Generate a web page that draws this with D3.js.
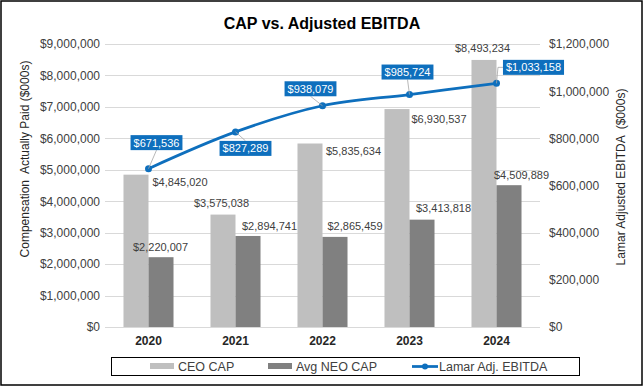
<!DOCTYPE html>
<html>
<head>
<meta charset="utf-8">
<script src="https://cdn.jsdelivr.net/npm/d3@7/dist/d3.min.js"></script>
<style>
  body { margin: 0; background: #fff; }
  text { font-family: "Liberation Sans", Arial, sans-serif; }
</style>
</head>
<body>
<div id="chart"></div>
<script>
// Data
var years = ['2020', '2021', '2022', '2023', '2024']
var ceoCap = [4845020, 3575038, 5835634, 6930537, 8493234]
var neoCap = [2220007, 2894741, 2865459, 3413818, 4509889]
var ebitda = [671536, 827289, 938079, 985724, 1033158]
var leftTicks = [0, 1000000, 2000000, 3000000, 4000000, 5000000, 6000000, 7000000, 8000000, 9000000]
var rightTicks = [0, 200000, 400000, 600000, 800000, 1000000, 1200000]

var width = 644
var height = 387
var margin = { top: 44, right: 104, bottom: 60, left: 105 }

var svg = d3.select('#chart').append('svg')
  .attr('width', width)
  .attr('height', height)

// outer frame
svg.append('rect')
  .attr('x', 1).attr('y', 1)
  .attr('width', width - 3).attr('height', height - 3)
  .attr('fill', '#fff')
  .attr('stroke', '#000')
  .attr('stroke-width', 1.5)

var x = d3.scaleBand()
  .domain(years)
  .range([margin.left, width - margin.right])
  .paddingInner(0.425)
  .paddingOuter(0.2125)

var xs = d3.scaleBand()
  .domain(['ceo', 'neo'])
  .range([0, x.bandwidth()])

var yL = d3.scaleLinear().domain([0, 9000000]).range([height - margin.bottom, margin.top])
var yR = d3.scaleLinear().domain([0, 1200000]).range([height - margin.bottom, margin.top])

var money = d3.format('$,')

// gridlines
svg.append('g').selectAll('line')
  .data(leftTicks)
  .enter().append('line')
  .attr('x1', margin.left)
  .attr('x2', width - margin.right)
  .attr('y1', function (d) { return Math.round(yL(d)) + 0.5 })
  .attr('y2', function (d) { return Math.round(yL(d)) + 0.5 })
  .attr('stroke', '#d9d9d9')
  .attr('stroke-width', 1)

// left axis
var axL = svg.append('g')
  .attr('transform', 'translate(' + margin.left + ',0)')
  .call(d3.axisLeft(yL).tickValues(leftTicks).tickFormat(money).tickSize(0).tickPadding(5))
axL.select('.domain').remove()
axL.selectAll('text').attr('font-size', 12).attr('fill', '#404040')
  .style('font-family', '"Liberation Sans", Arial, sans-serif')

// right axis
var axR = svg.append('g')
  .attr('transform', 'translate(' + (width - margin.right) + ',0)')
  .call(d3.axisRight(yR).tickValues(rightTicks).tickFormat(money).tickSize(0).tickPadding(9))
axR.select('.domain').remove()
axR.selectAll('text').attr('font-size', 12).attr('fill', '#404040')
  .style('font-family', '"Liberation Sans", Arial, sans-serif')

// x axis
var axX = svg.append('g')
  .attr('transform', 'translate(0,' + (height - margin.bottom) + ')')
  .call(d3.axisBottom(x).tickSize(0).tickPadding(9))
axX.select('.domain').remove()
axX.selectAll('text').attr('font-size', 12).attr('font-weight', 'bold').attr('fill', '#262626')
  .style('font-family', '"Liberation Sans", Arial, sans-serif')

// bars
var groups = svg.append('g').selectAll('g')
  .data(years)
  .enter().append('g')
  .attr('transform', function (d) { return 'translate(' + x(d) + ',0)' })

groups.append('rect')
  .attr('x', xs('ceo'))
  .attr('width', xs.bandwidth())
  .attr('y', function (d, i) { return yL(ceoCap[i]) })
  .attr('height', function (d, i) { return yL(0) - yL(ceoCap[i]) })
  .attr('fill', '#bfbfbf')

groups.append('rect')
  .attr('x', xs('neo'))
  .attr('width', xs.bandwidth())
  .attr('y', function (d, i) { return yL(neoCap[i]) })
  .attr('height', function (d, i) { return yL(0) - yL(neoCap[i]) })
  .attr('fill', '#808080')

// bar labels: [anchor, dx from bar centre, dy from bar top to label centre]
var ceoNudge = [['start', 16.5, 7.5], ['middle', -1.5, -11.5], ['start', 16, 7.5], ['start', 14.5, 10], ['middle', -1.5, -12]]
var neoNudge = [['middle', -0.5, -10], ['middle', 21.5, -10], ['middle', 20, -11], ['middle', 21.5, -11.5], ['middle', 12.5, -10]]

groups.append('text')
  .attr('text-anchor', function (d, i) { return ceoNudge[i][0] })
  .attr('x', function (d, i) { return xs('ceo') + xs.bandwidth() / 2 + ceoNudge[i][1] })
  .attr('y', function (d, i) { return yL(ceoCap[i]) + ceoNudge[i][2] + 4 })
  .attr('font-size', 11)
  .attr('fill', '#404040')
  .text(function (d, i) { return money(ceoCap[i]) })

groups.append('text')
  .attr('text-anchor', function (d, i) { return neoNudge[i][0] })
  .attr('x', function (d, i) { return xs('neo') + xs.bandwidth() / 2 + neoNudge[i][1] })
  .attr('y', function (d, i) { return yL(neoCap[i]) + neoNudge[i][2] + 4 })
  .attr('font-size', 11)
  .attr('fill', '#404040')
  .text(function (d, i) { return money(neoCap[i]) })

// EBITDA line
var blue = '#0e6fbd'
var px = function (d, i) { return x(years[i]) + x.bandwidth() / 2 }
var line = d3.line()
  .x(px)
  .y(function (d) { return yR(d) })
  .curve(d3.curveCatmullRom.alpha(0.5))

// label boxes (centre offsets from point)
var boxNudge = [[8, -26], [10, 16.5], [-12, -17], [-2, -22.5], [37, -16]]

var gLab = svg.append('g')
ebitda.forEach(function (d, i) {
  var cx = px(d, i) + boxNudge[i][0]
  var cy = yR(d) + boxNudge[i][1]
  var t = gLab.append('text')
    .attr('x', cx)
    .attr('y', cy + 4)
    .attr('text-anchor', 'middle')
    .attr('font-size', 11)
    .attr('fill', '#fff')
    .text(money(d))
  var bb = t.node().getBBox()
  var w = bb.width + 6
  var h = 15
  // leader line
  var ex = cx, ey = boxNudge[i][1] < 0 ? cy + h / 2 : cy - h / 2
  if (i === 4) { ex = cx - w / 2; ey = cy }
  gLab.insert('path', 'text')
    .attr('d', i === 4
      ? 'M' + px(d, i) + ',' + yR(d) + 'L' + (ex - 5) + ',' + ey + 'L' + ex + ',' + ey
      : 'M' + px(d, i) + ',' + yR(d) + 'L' + ex + ',' + ey)
    .attr('fill', 'none')
    .attr('stroke', '#a6a6a6')
    .attr('stroke-width', 0.8)
  gLab.insert('rect', 'text')
    .attr('x', cx - w / 2)
    .attr('y', cy - h / 2)
    .attr('width', w)
    .attr('height', h)
    .attr('fill', blue)
})

svg.append('path')
  .datum(ebitda)
  .attr('d', line)
  .attr('fill', 'none')
  .attr('stroke', blue)
  .attr('stroke-width', 2.75)

svg.append('g').selectAll('circle')
  .data(ebitda)
  .enter().append('circle')
  .attr('cx', px)
  .attr('cy', function (d) { return yR(d) })
  .attr('r', 3.5)
  .attr('fill', blue)

// raise label boxes above line
gLab.raise()

// title
svg.append('text')
  .attr('x', 322)
  .attr('y', 29)
  .attr('text-anchor', 'middle')
  .attr('font-size', 16)
  .attr('font-weight', 'bold')
  .attr('fill', '#000')
  .text('CAP vs. Adjusted EBITDA')

// axis titles
svg.append('text')
  .attr('transform', 'translate(29,159) rotate(-90)')
  .attr('text-anchor', 'middle')
  .attr('font-size', 12)
  .attr('fill', '#262626')
  .style('white-space', 'pre')
  .text('Compensation  Actually Paid ($000s)')

svg.append('text')
  .attr('transform', 'translate(625,177) rotate(-90)')
  .attr('text-anchor', 'middle')
  .attr('font-size', 12)
  .attr('fill', '#262626')
  .style('white-space', 'pre')
  .text('Lamar Adjusted EBITDA  ($000s)')

// legend
var legend = svg.append('g')
legend.append('rect')
  .attr('x', 111.5).attr('y', 357.5)
  .attr('width', 468).attr('height', 18)
  .attr('fill', '#fff')
  .attr('stroke', '#000')
  .attr('stroke-width', 1)

var legItems = [
  { label: 'CEO CAP', color: '#bfbfbf', type: 'bar', x: 150 },
  { label: 'Avg NEO CAP', color: '#808080', type: 'bar', x: 268 },
  { label: 'Lamar Adj. EBITDA', color: blue, type: 'line', x: 412 }
]
legItems.forEach(function (d) {
  if (d.type === 'bar') {
    legend.append('rect')
      .attr('x', d.x).attr('y', 363)
      .attr('width', 24).attr('height', 6)
      .attr('fill', d.color)
  } else {
    legend.append('line')
      .attr('x1', d.x).attr('x2', d.x + 26)
      .attr('y1', 366.5).attr('y2', 366.5)
      .attr('stroke', d.color).attr('stroke-width', 2.75)
    legend.append('circle')
      .attr('cx', d.x + 13).attr('cy', 366.5).attr('r', 3)
      .attr('fill', d.color)
  }
  legend.append('text')
    .attr('x', d.x + (d.type === 'bar' ? 28 : 27))
    .attr('y', 371)
    .attr('font-size', 12.5)
    .attr('fill', '#404040')
    .text(d.label)
})
</script>
</body>
</html>
